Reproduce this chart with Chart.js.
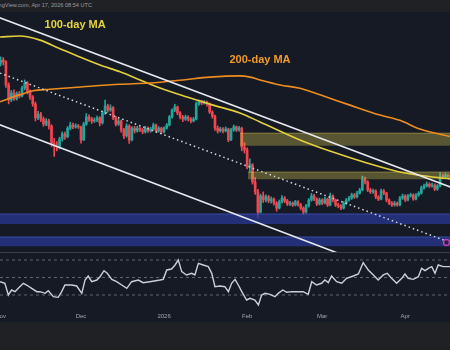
<!DOCTYPE html>
<html lang="en">
<head>
    <meta charset="UTF-8">
    <title>BTC daily - MAs and RSI</title>
    <script src="https://cdn.jsdelivr.net/npm/chart.js"></script>
    <style>
        html, body {
            margin: 0;
            padding: 0;
            background: #202124;
            width: 450px;
            height: 350px;
            overflow: hidden;
        }
        .topbar {
            position: relative;
            height: 12px;
            background: #202124;
            overflow: hidden;
        }
        .topbar span {
            position: absolute;
            left: -14px;
            top: 2px;
            font: 5.6px "Liberation Sans", Arial, sans-serif;
            color: #9a9ca3;
            white-space: nowrap;
        }
        .panel {
            background: #161a25;
            width: 450px;
        }
        .divider {
            height: 1px;
            background: #3a3e49;
        }
        canvas {
            display: block;
        }
    </style>
</head>
<body>

<div class="topbar"><span>TradingView.com, Apr 17, 2026 08:54 UTC</span></div>
<div class="panel" style="height:240px"><canvas id="priceChart" width="450" height="240"></canvas></div>
<div class="divider"></div>
<div class="panel" style="height:69px"><canvas id="rsiChart" width="450" height="69"></canvas></div>

<script>
    // Daily candles, day 0 = Nov 1 2025 (prices in thousands USD)
    const firstOpen = 109.8;
    const closes = [
        110.8, 110.2, 102.8, 98.0, 100.2, 98.3, 99.9, 99.2, 101.8, 103.4,
        100.5, 98.9, 96.7, 92.2, 93.4, 91.8, 90.2, 91.2, 89.6, 84.1,
        83.2, 82.8, 85.4, 87.0, 86.1, 88.9, 89.9, 89.3, 89.6, 89.3,
        85.1, 90.2, 92.5, 91.8, 91.2, 91.5, 92.2, 90.6, 93.8, 96.0,
        94.7, 95.4, 92.2, 90.2, 91.2, 88.3, 86.4, 89.6, 85.1, 88.9,
        88.0, 88.9, 88.3, 87.7, 88.9, 88.0, 88.6, 89.9, 88.0, 88.9,
        87.7, 88.9, 89.9, 92.5, 94.7, 95.7, 93.8, 92.5, 91.8, 92.5,
        91.8, 91.2, 91.8, 96.7, 97.6, 97.0, 97.3, 96.7, 94.1, 92.8,
        88.9, 88.0, 88.6, 88.0, 88.6, 85.1, 88.3, 89.3, 88.3, 88.9,
        82.8, 81.9, 76.4, 77.1, 71.6, 68.4, 61.9, 67.1, 65.8, 66.8,
        65.5, 66.1, 64.8, 63.2, 65.2, 66.4, 65.5, 64.5, 64.8, 64.2,
        65.2, 64.2, 63.2, 61.9, 63.9, 65.8, 67.1, 66.1, 64.5, 65.8,
        64.8, 66.1, 64.2, 67.1, 65.8, 64.2, 63.9, 63.2, 64.8, 65.8,
        66.4, 67.4, 66.8, 68.0, 69.0, 72.5, 71.6, 69.0, 68.4, 68.7,
        66.8, 66.1, 68.7, 68.0, 65.8, 64.8, 64.2, 64.8, 64.2, 66.4,
        67.1, 65.8, 67.1, 67.4, 66.1, 67.4, 68.0, 69.7, 70.3, 70.9,
        70.3, 70.6, 69.3, 70.3, 73.5, 73.2, 73.8, 73.3
    ];
    const highs = [
        111.8, 111.6, 110.6, 103.5, 101.0, 101.2, 100.6, 100.7, 102.4, 104.4,
        103.9, 101.2, 99.4, 97.3, 94.3, 94.0, 92.5, 92.0, 91.8, 90.0,
        85.6, 84.6, 86.0, 87.7, 87.6, 89.4, 90.8, 90.5, 90.3, 90.1,
        89.6, 90.8, 93.6, 93.2, 92.4, 92.2, 92.8, 92.6, 94.4, 97.9,
        96.6, 96.4, 95.8, 92.7, 91.9, 91.5, 88.8, 90.3, 90.0, 89.4,
        89.5, 89.5, 89.3, 88.8, 89.5, 89.3, 89.2, 90.5, 90.2, 89.4,
        89.2, 89.3, 90.4, 93.0, 95.1, 96.6, 96.0, 94.2, 93.0, 93.1,
        92.9, 92.3, 92.4, 97.3, 98.0, 97.9, 97.8, 97.6, 97.0, 94.5,
        93.1, 89.6, 89.2, 89.1, 89.3, 88.9, 88.8, 89.9, 89.6, 89.5,
        89.2, 84.2, 82.6, 79.0, 77.5, 73.0, 69.2, 67.7, 68.4, 67.5,
        67.3, 66.8, 66.5, 65.3, 65.8, 67.2, 66.9, 66.0, 65.4, 65.2,
        65.7, 65.6, 64.7, 63.6, 64.4, 66.3, 67.9, 67.6, 66.5, 66.4,
        66.2, 66.7, 66.4, 68.0, 67.5, 66.1, 64.8, 64.3, 65.3, 66.3,
        67.0, 68.0, 67.9, 68.6, 69.6, 73.5, 73.2, 72.0, 69.6, 69.3,
        69.1, 67.2, 69.3, 69.2, 68.3, 66.2, 65.3, 65.4, 65.2, 67.0,
        67.7, 67.5, 67.6, 68.0, 67.8, 67.9, 68.5, 70.3, 70.9, 71.6,
        71.3, 71.2, 71.0, 70.8, 74.6, 74.2, 74.5, 74.1
    ];
    const lows = [
        108.9, 109.2, 102.0, 96.7, 97.4, 97.8, 97.9, 98.6, 98.9, 101.2,
        99.9, 98.1, 95.9, 91.2, 91.6, 91.0, 89.5, 89.7, 88.6, 83.0,
        79.8, 81.6, 82.2, 84.7, 85.3, 85.8, 88.4, 88.7, 88.9, 88.8,
        84.1, 84.9, 89.8, 91.1, 90.4, 90.7, 91.0, 89.6, 90.2, 93.3,
        94.0, 94.3, 91.6, 89.6, 89.8, 87.6, 85.5, 86.0, 84.0, 84.8,
        87.3, 87.6, 87.8, 87.1, 87.3, 87.5, 87.6, 88.3, 87.5, 87.6,
        87.1, 87.4, 88.6, 89.6, 92.1, 94.2, 93.2, 91.9, 91.0, 91.4,
        91.2, 90.6, 90.9, 91.5, 96.2, 96.4, 96.6, 96.0, 93.6, 92.1,
        88.2, 87.3, 87.6, 87.4, 87.7, 84.5, 84.9, 87.9, 87.8, 87.9,
        81.6, 80.9, 75.8, 74.8, 70.9, 67.6, 60.0, 61.6, 65.0, 65.2,
        64.9, 64.8, 64.1, 62.2, 62.9, 64.8, 64.9, 64.0, 64.0, 63.7,
        63.9, 63.8, 62.6, 61.0, 61.6, 63.5, 65.4, 65.6, 64.0, 64.2,
        64.3, 64.5, 63.7, 63.9, 65.2, 63.7, 63.3, 62.7, 62.9, 64.4,
        65.4, 66.0, 66.3, 66.5, 67.7, 68.7, 71.0, 68.5, 67.9, 67.9,
        66.2, 65.6, 65.8, 67.5, 65.2, 64.3, 63.7, 63.8, 63.8, 63.9,
        66.0, 65.3, 65.5, 66.7, 65.7, 65.8, 67.0, 67.7, 69.3, 70.0,
        69.8, 69.9, 68.8, 68.9, 70.0, 72.6, 72.9, 72.8
    ];

    // Moving averages (day, price)
    const ma100Days = [-0.2, 7.2, 14.7, 22.2, 29.6, 37.1, 44.6, 52.0, 59.5, 69.6, 79.3, 89.3, 96.8, 111.7, 124.0, 136.7, 149.0, 161.3, 167.7];
    const ma100 = [118.2, 118.5, 117.2, 114.4, 111.8, 109.2, 107.0, 104.4, 101.8, 98.9, 96.3, 93.8, 90.9, 85.1, 81.2, 77.7, 74.8, 73.2, 72.6];
    const ma200Days = [-0.2, 7.2, 12.1, 18.4, 30.8, 44.6, 55.8, 68.1, 78.1, 89.3, 93.1, 96.8, 104.3, 111.7, 119.2, 130.4, 141.6, 149.0, 156.5, 167.7];
    const ma200 = [97.4, 99.6, 100.9, 101.4, 102.2, 103.0, 103.4, 104.4, 105.3, 105.7, 105.3, 104.4, 102.8, 101.7, 99.6, 96.3, 93.1, 91.4, 88.6, 86.2];

    // Trend lines: [startDay, startPrice, endDay, endPrice]
    const channelTop = [-1, 124.6, 168, 69.9];
    const channelBottom = [-1, 90.2, 140, 44.1];
    const midTrend = [-0.2, 106.6, 165.4, 52.9];

    // Zones: [startDay, top, bottom]
    const resistanceZones = [[89.3, 87.3, 83.2], [92.3, 74.8, 72.5]];
    const supportZones = [[-1, 61.3, 58.1], [-1, 53.9, 50.9]];

    // RSI (14)
    const rsiDays = [-0.2, 1.6, 2.9, 4.1, 5.4, 6.6, 8.5, 9.7, 11.6, 13.5, 14.7, 16.6, 17.8, 19.7, 21.5, 22.8, 24.0, 26.5, 28.4, 30.3, 31.5, 32.7, 34.0, 35.9, 37.1, 38.6, 39.8, 41.5, 43.3, 45.2, 47.1, 48.9, 51.4, 53.2, 55.7,
        59.5, 60.7, 62.0, 63.8, 65.1, 66.3, 67.6, 69.4, 71.3, 72.5, 73.8, 75.6, 77.5, 78.8, 80.0, 81.9, 83.7, 85.0, 86.2, 87.5, 88.7, 90.0, 91.8, 93.1, 94.9, 96.2, 97.4, 98.7, 100.5, 102.4, 103.6, 105.3, 106.8, 108.6, 111.7,
        112.9, 114.8, 116.1, 117.9, 119.8, 121.0, 122.3, 123.5, 125.4, 127.3, 129.1, 131.6, 133.5, 135.3, 137.2, 139.1, 140.9, 142.8, 144.3, 145.9, 147.8, 149.7, 150.9, 152.1, 154.0, 155.9, 157.1, 158.4, 159.6, 160.9, 162.1, 163.3, 165.2, 167.7];
    const rsiValues = [45.2, 43.4, 30.0, 35.7, 33.8, 37.6, 43.4, 41.4, 37.6, 33.8, 33.8, 31.9, 34.9, 28.1, 27.3, 33.8, 41.4, 41.4, 40.3, 31.9, 47.1, 51.7, 45.2, 47.1, 50.9, 57.8, 54.8, 47.9, 45.2, 41.4, 37.6, 45.2, 47.1, 44.1, 45.2,
        47.1, 47.9, 58.6, 59.7, 64.3, 70.0, 56.7, 52.9, 54.8, 52.9, 66.2, 64.3, 62.4, 54.8, 39.5, 40.3, 39.5, 33.8, 43.4, 47.9, 41.4, 33.8, 24.3, 26.2, 24.3, 18.6, 30.0, 31.9, 30.8, 28.1, 31.9, 35.7, 33.1, 33.8, 33.8,
        33.8, 30.8, 45.2, 41.4, 43.4, 47.1, 44.1, 51.7, 45.2, 43.4, 49.0, 51.7, 54.0, 66.9, 58.6, 52.9, 47.1, 52.9, 54.8, 49.0, 43.4, 49.0, 54.0, 49.0, 47.9, 50.9, 60.5, 57.8, 60.5, 62.4, 54.8, 64.3, 62.4, 62.4];
    const rsiLevels = [70, 50, 30];

    // Month ticks on the time axis
    const monthTicks = [0, 30, 61, 92, 120, 151];
    const monthLabels = ['Nov', 'Dec', '2026', 'Feb', 'Mar', 'Apr'];

    const xMin = -0.22, xMax = 167.7;
    const upColor = '#22a69a', downColor = '#ef4650';

    const opens = closes.map((c, i) => i === 0 ? firstOpen : closes[i - 1]);
    const candleColors = closes.map((c, i) => c >= opens[i] ? upColor : downColor);

    function segment(line) {
        return [{x: line[0], y: line[1]}, {x: line[2], y: line[3]}];
    }

    function zone(z, fillColor, edgeColor) {
        return {
            type: 'line',
            data: [{x: z[0], y: z[1]}, {x: xMax + 1, y: z[1]}],
            fill: {value: z[2]},
            backgroundColor: fillColor,
            borderColor: edgeColor,
            borderWidth: 1,
            pointRadius: 0,
            order: 3
        };
    }

    // "100-day MA" / "200-day MA" captions
    const maLabels = {
        id: 'maLabels',
        afterDatasetsDraw(chart) {
            const {ctx, scales: {x, y}} = chart;
            ctx.save();
            ctx.font = 'bold 11px "Liberation Sans", Arial, sans-serif';
            ctx.textAlign = 'center';
            ctx.textBaseline = 'middle';
            ctx.fillStyle = '#e6d43c';
            ctx.fillText('100-day MA', x.getPixelForValue(27.8), y.getPixelForValue(122.1));
            ctx.fillStyle = '#f09a2a';
            ctx.fillText('200-day MA', x.getPixelForValue(96.8), y.getPixelForValue(110.8));
            ctx.restore();
        }
    };

    const priceChart = new Chart(document.getElementById('priceChart'), {
        type: 'line',
        data: {
            datasets: [
                {
                    type: 'bar',
                    data: closes.map((c, i) => ({x: i, y: [lows[i], highs[i]]})),
                    backgroundColor: candleColors,
                    barThickness: 1,
                    grouped: false,
                    order: 6
                },
                {
                    type: 'bar',
                    data: closes.map((c, i) => ({x: i, y: [opens[i], c]})),
                    backgroundColor: candleColors,
                    barThickness: 2,
                    minBarLength: 1,
                    grouped: false,
                    order: 5
                },
                zone(resistanceZones[0], 'rgba(225, 205, 80, 0.33)', 'rgba(225, 205, 80, 0.4)'),
                zone(resistanceZones[1], 'rgba(225, 205, 80, 0.33)', 'rgba(225, 205, 80, 0.4)'),
                zone(supportZones[0], 'rgba(40, 56, 150, 0.72)', 'rgba(62, 82, 180, 0.85)'),
                zone(supportZones[1], 'rgba(40, 56, 150, 0.72)', 'rgba(62, 82, 180, 0.85)'),
                {
                    data: ma200Days.map((d, i) => ({x: d, y: ma200[i]})),
                    borderColor: '#ee8d1f',
                    borderWidth: 1.6,
                    pointRadius: 0,
                    cubicInterpolationMode: 'monotone',
                    order: 2
                },
                {
                    data: ma100Days.map((d, i) => ({x: d, y: ma100[i]})),
                    borderColor: '#e3cf3e',
                    borderWidth: 1.6,
                    pointRadius: 0,
                    cubicInterpolationMode: 'monotone',
                    order: 2
                },
                {
                    data: segment(channelTop),
                    borderColor: '#e6e8ee',
                    borderWidth: 1.6,
                    pointRadius: 0,
                    order: 1
                },
                {
                    data: segment(channelBottom),
                    borderColor: '#e6e8ee',
                    borderWidth: 1.6,
                    pointRadius: 0,
                    order: 1
                },
                {
                    data: segment(midTrend),
                    borderColor: '#d4d7de',
                    borderWidth: 1.5,
                    borderDash: [1.5, 3],
                    pointRadius: 0,
                    order: 1
                },
                {
                    data: [{x: 166.4, y: 52.1}],
                    showLine: false,
                    pointRadius: 3,
                    pointBorderWidth: 1.5,
                    pointBorderColor: '#c23dc4',
                    pointBackgroundColor: '#2b2040',
                    order: 0
                }
            ]
        },
        options: {
            animation: false,
            responsive: false,
            events: [],
            layout: {padding: 0, autoPadding: false},
            plugins: {legend: {display: false}, tooltip: {enabled: false}},
            scales: {
                x: {type: 'linear', display: false, min: xMin, max: xMax, offset: false},
                y: {type: 'linear', display: false, min: 49.08, max: 126.24}
            }
        },
        plugins: [maLabels]
    });

    const rsiChart = new Chart(document.getElementById('rsiChart'), {
        type: 'line',
        data: {
            datasets: [
                {
                    data: rsiDays.map((d, i) => ({x: d, y: rsiValues[i]})),
                    borderColor: '#c9cfdb',
                    borderWidth: 1.4,
                    pointRadius: 0,
                    order: 0
                },
                ...rsiLevels.map(level => ({
                    data: [{x: xMin, y: level}, {x: xMax, y: level}],
                    borderColor: '#5f636e',
                    borderWidth: 1,
                    borderDash: [3, 3],
                    pointRadius: 0,
                    order: 1
                }))
            ]
        },
        options: {
            animation: false,
            responsive: false,
            events: [],
            layout: {padding: 0, autoPadding: false},
            plugins: {legend: {display: false}, tooltip: {enabled: false}},
            scales: {
                x: {
                    type: 'linear',
                    min: xMin,
                    max: xMax,
                    offset: false,
                    grid: {display: false, drawTicks: false},
                    border: {display: false},
                    ticks: {
                        color: '#a3a6af',
                        font: {size: 6, family: '"Liberation Sans", Arial, sans-serif'},
                        autoSkip: false,
                        maxRotation: 0,
                        padding: 3,
                        callback: value => monthLabels[monthTicks.indexOf(value)]
                    },
                    afterBuildTicks: axis => {
                        axis.ticks = monthTicks.map(v => ({value: v}));
                    },
                    afterFit: axis => {
                        axis.height = 12;
                        axis.paddingLeft = 0;
                        axis.paddingRight = 0;
                    }
                },
                y: {type: 'linear', display: false, min: 12.86, max: 78}
            }
        }
    });
</script>
</body>
</html>
